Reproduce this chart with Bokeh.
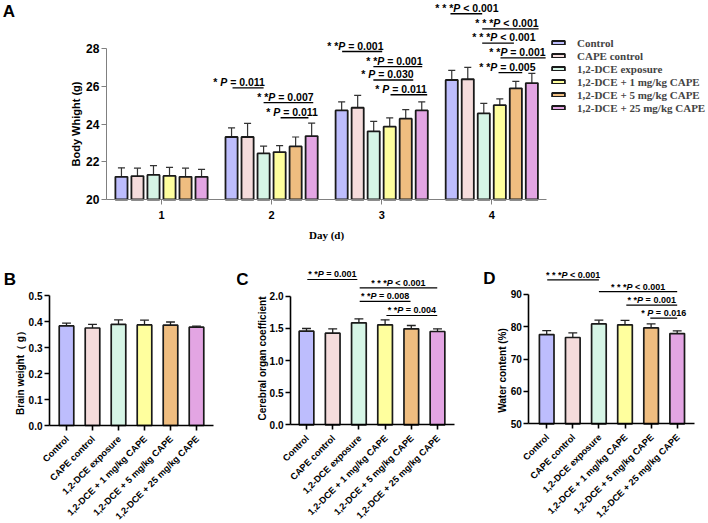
import math
from bokeh.plotting import figure
from bokeh.models import Range1d, FixedTicker, Label, Legend, LegendItem, NumeralTickFormatter
from bokeh.layouts import column, row
from bokeh.embed import file_html
from bokeh.resources import INLINE
from bokeh.core.properties import value

SANS = "Liberation Sans"
SERIF = "Liberation Serif"
INK = "#1a1a1a"

groups = ["Control", "CAPE control", "1,2-DCE exposure",
          "1,2-DCE + 1 mg/kg CAPE", "1,2-DCE + 5 mg/kg CAPE", "1,2-DCE + 25 mg/kg CAPE"]
colors = ["#bdbdfd", "#f5dcdc", "#d6f5e6", "#ffff9e", "#efbd80", "#e3a5e3"]

days = [1, 2, 3, 4]

# Body weight (g): mean per day for each group
bw_control = [21.20, 23.31, 24.72, 26.33]
bw_cape = [21.24, 23.31, 24.86, 26.37]
bw_dce = [21.30, 22.44, 23.61, 24.56]
bw_dce_1 = [21.25, 22.51, 23.86, 25.00]
bw_dce_5 = [21.20, 22.81, 24.28, 25.89]
bw_dce_25 = [21.20, 23.36, 24.72, 26.17]

# Body weight (g): SD per day for each group
sd_control = [0.48, 0.48, 0.45, 0.51]
sd_cape = [0.42, 0.72, 0.66, 0.63]
sd_dce = [0.49, 0.39, 0.53, 0.53]
sd_dce_1 = [0.45, 0.34, 0.46, 0.33]
sd_dce_5 = [0.46, 0.50, 0.48, 0.37]
sd_dce_25 = [0.40, 0.69, 0.45, 0.51]

bw_means = [bw_control, bw_cape, bw_dce, bw_dce_1, bw_dce_5, bw_dce_25]
bw_sds = [sd_control, sd_cape, sd_dce, sd_dce_1, sd_dce_5, sd_dce_25]

# Brain weight (g)
brain_weight = [0.383, 0.375, 0.389, 0.387, 0.386, 0.378]
brain_weight_sd = [0.011, 0.014, 0.017, 0.018, 0.012, 0.004]

# Cerebral organ coefficient
organ_coef = [1.456, 1.425, 1.586, 1.555, 1.493, 1.451]
organ_coef_sd = [0.042, 0.068, 0.062, 0.078, 0.051, 0.042]

# Water content (%)
water = [77.6, 76.7, 80.9, 80.6, 79.7, 77.9]
water_sd = [1.25, 1.40, 1.15, 1.40, 1.20, 0.85]

# Comparisons over the body weight bars:
# (day, line start bar, line end bar, height, label, label end bar)
bw_sig = [
    (2, 0.06, 2.00, 25.91, "* P = 0.011", 2.12),
    (2, 2.00, 5.10, 25.13, "* *P = 0.007", 5.12),
    (2, 3.06, 4.80, 24.33, "* P = 0.011", 5.43),
    (3, 0.03, 2.53, 27.84, "* *P = 0.001", 2.61),
    (3, 1.98, 5.03, 27.04, "* *P = 0.001", 5.05),
    (3, 1.98, 4.47, 26.33, "* P = 0.030", 4.49),
    (3, 3.05, 5.34, 25.55, "* P = 0.011", 5.36),
    (4, -0.08, 1.90, 29.84, "* * *P < 0.001", 2.92),
    (4, 1.90, 5.42, 29.04, "* * *P < 0.001", 5.42),
    (4, 1.90, 3.88, 28.28, "* * *P < 0.001", 5.23),
    (4, 3.04, 5.86, 27.50, "* *P = 0.001", 5.86),
    (4, 2.92, 4.40, 26.72, "* *P = 0.005", 5.23),
]

# Comparisons over the organ bars: (line start bar, line end bar, height, label)
coef_sig = [
    (0.03, 1.94, 2.26, "* *P = 0.001"),
    (2.03, 4.99, 2.13, "* * *P < 0.001"),
    (2.03, 3.97, 1.92, "* *P = 0.008"),
    (3.05, 4.99, 1.70, "* *P = 0.004"),
]
water_sig = [
    (0.02, 2.00, 94.5, "* * *P < 0.001"),
    (2.00, 5.00, 90.9, "* * *P < 0.001"),
    (3.05, 5.00, 86.7, "* *P = 0.001"),
    (3.97, 5.00, 82.7, "* P = 0.016"),
]

# Advance widths (em) of the bold sans face, used to set the italic "P" inline
ADV = {" ": 0.278, "*": 0.389, "P": 0.667, "=": 0.584, "<": 0.584, ".": 0.278}


def text_width(s, size):
    return sum(ADV.get(c, 0.556) for c in s) * size


def p_label_pieces(label, size):
    """Split a p-value label into runs; the P itself is italic. Offsets in px from the left edge."""
    k = label.index("P")
    runs = [(label[:k], False, 0), ("P", True, k), (label[k + 1:], False, k + 1)]
    out = []
    for seg, italic, start in runs:
        lead = len(seg) - len(seg.lstrip(" "))
        s = seg.strip(" ")
        if s:
            out.append((s, italic, text_width(label[:start + lead], size)))
    return out, text_width(label, size)


def draw_p_labels(p, xs, ys, labels, size, anchor):
    """anchor 'right': xs are right ends; 'center': xs are centres."""
    cols = {False: dict(x=[], y=[], t=[], o=[]), True: dict(x=[], y=[], t=[], o=[])}
    for x, y, lab in zip(xs, ys, labels):
        runs, total = p_label_pieces(lab, size)
        shift = -total if anchor == "right" else -total / 2
        for s, italic, off in runs:
            c = cols[italic]
            c["x"].append(x)
            c["y"].append(y)
            c["t"].append(s)
            c["o"].append(off + shift)
    for italic, c in cols.items():
        p.text(x=c["x"], y=c["y"], text=c["t"], x_offset=c["o"], text_font=value(SANS),
               text_font_style="bold italic" if italic else "bold",
               text_font_size=f"{size}px", text_align="left", text_baseline="bottom",
               text_color="black")


class Frame:
    """Maps figure pixels to data; the plot frame fills the whole figure."""

    def __init__(self, width, height, x_px, x_val, x_scale, y_px, y_val, y_scale):
        self.width, self.height = width, height
        self.x_px, self.x_val, self.x_scale = x_px, x_val, x_scale
        self.y_px, self.y_val, self.y_scale = y_px, y_val, y_scale

    def x(self, px):
        return self.x_val + (px - self.x_px) / self.x_scale

    def y(self, py):
        return self.y_val + (self.y_px - py) / self.y_scale

    def figure(self):
        p = figure(width=self.width, height=self.height,
                   x_range=Range1d(self.x(0), self.x(self.width)),
                   y_range=Range1d(self.y(self.height), self.y(0)),
                   output_backend="svg", toolbar_location=None,
                   min_border=0, min_border_left=0, min_border_right=0,
                   min_border_top=0, min_border_bottom=0)
        p.outline_line_color = None
        p.grid.visible = False
        p.background_fill_color = None
        p.border_fill_color = None
        return p


def style_axis(ax, color, width, size):
    ax.axis_line_color = color
    ax.axis_line_width = width
    ax.major_tick_line_color = color
    ax.major_tick_line_width = width
    ax.major_tick_out = 5
    ax.major_tick_in = 0
    ax.minor_tick_line_color = None
    ax.major_label_text_font = SANS
    ax.major_label_text_font_style = "bold"
    ax.major_label_text_font_size = size
    ax.major_label_text_color = "black"
    ax.major_label_standoff = 2


def add_label(p, fr, sx, sy, text, size, font=SANS, angle=0.0, align="center", baseline="middle"):
    p.add_layout(Label(x=fr.x(sx), y=fr.y(sy), text=text, angle=angle, text_align=align,
                       text_baseline=baseline, text_font=font, text_font_style="bold",
                       text_font_size=size, text_color="black"))


# ---------------- Panel A: body weight over days ----------------
fa = Frame(708, 262, 161, 1.0, 110.1, 199, 20.0, 18.875)
PITCH = 0.1455
BAR_W = 0.11
CAP = 0.032

pA = fa.figure()

bar_renderers = []
for i, (name, color) in enumerate(zip(groups, colors)):
    xs = [d + (i - 2.5) * PITCH for d in days]
    means = bw_means[i]
    tops = [m + s for m, s in zip(means, bw_sds[i])]
    pA.segment(x0=xs, y0=means, x1=xs, y1=tops, line_color="#333333", line_width=1.2)
    pA.segment(x0=[x - CAP for x in xs], y0=tops, x1=[x + CAP for x in xs], y1=tops,
               line_color="#333333", line_width=1.2)
    r = pA.vbar(x=xs, top=means, bottom=20, width=BAR_W, fill_color=color,
                line_color=INK, line_width=1.8)
    bar_renderers.append(r)

sx0 = [day + (a - 2.5) * PITCH for day, a, b, lvl, lab, te in bw_sig]
sx1 = [day + (b - 2.5) * PITCH for day, a, b, lvl, lab, te in bw_sig]
sy = [lvl for day, a, b, lvl, lab, te in bw_sig]
sxe = [day + (te - 2.5) * PITCH for day, a, b, lvl, lab, te in bw_sig]
pA.segment(x0=sx0, y0=sy, x1=sx1, y1=sy, line_color="black", line_width=1.3)
draw_p_labels(pA, sxe, sy, [s[4] for s in bw_sig], 10.5, "right")

style_axis(pA.xaxis[0], "#808080", 1, "11px")
style_axis(pA.yaxis[0], "#808080", 1, "12px")
pA.xaxis.ticker = FixedTicker(ticks=days)
pA.xaxis.bounds = (0.5, 4.5)
pA.xaxis.fixed_location = 20
pA.xaxis.major_label_standoff = 6
pA.yaxis.ticker = FixedTicker(ticks=[20, 22, 24, 26, 28])
pA.yaxis.bounds = (20, 28)
pA.yaxis.fixed_location = 0.5

legend = Legend(items=[LegendItem(label=g, renderers=[r]) for g, r in zip(groups, bar_renderers)],
                location=(550, 262 - 114), orientation="vertical",
                label_text_font=SERIF, label_text_font_style="bold", label_text_font_size="11px",
                glyph_width=16, glyph_height=5, label_standoff=11, label_height=13,
                spacing=0, padding=0, margin=0, border_line_color=None,
                background_fill_alpha=0)
pA.add_layout(legend)

add_label(pA, fa, 8.5, 11, "A", "17px", align="center")
add_label(pA, fa, 75, 123.5, "Body Whight (g)", "11px", angle=math.pi / 2)
add_label(pA, fa, 326, 234, "Day (d)", "11px", font=SERIF)


# ---------------- Panels B-D: organ measurements ----------------
def organ_panel(fr, means, sds, sig, ticks, fmt, y_axis_x, x_end, base,
                letter, letter_xy, title, title_xy):
    p = fr.figure()
    xs = list(range(len(groups)))
    tops = [m + s for m, s in zip(means, sds)]
    cap = 0.17
    p.segment(x0=xs, y0=means, x1=xs, y1=tops, line_color="#222222", line_width=1.3)
    p.segment(x0=[x - cap for x in xs], y0=tops, x1=[x + cap for x in xs], y1=tops,
              line_color="#222222", line_width=1.3)
    p.vbar(x=xs, top=means, bottom=base, width=0.56, fill_color=colors,
           line_color=INK, line_width=1.7)
    if sig:
        p.segment(x0=[s[0] for s in sig], y0=[s[2] for s in sig],
                  x1=[s[1] for s in sig], y1=[s[2] for s in sig],
                  line_color="black", line_width=1.2)
        draw_p_labels(p, [(s[0] + s[1]) / 2 for s in sig], [s[2] for s in sig],
                      [s[3] for s in sig], 9, "center")
    style_axis(p.xaxis[0], "black", 1.6, "10px")
    style_axis(p.yaxis[0], "black", 1.6, "10px")
    p.xaxis.ticker = FixedTicker(ticks=xs)
    p.xaxis.major_label_overrides = {i: "" for i in xs}
    p.xaxis.bounds = (y_axis_x, x_end)
    p.xaxis.fixed_location = base
    p.yaxis.ticker = FixedTicker(ticks=ticks)
    p.yaxis.formatter = NumeralTickFormatter(format=fmt)
    p.yaxis.bounds = (ticks[0], ticks[-1])
    p.yaxis.fixed_location = y_axis_x

    base_px = fr.y_px
    for i, name in enumerate(groups):
        sx = fr.x_px + i * fr.x_scale + 1
        add_label(p, fr, sx, base_px + 12, name, "9.2px", angle=math.pi / 4,
                  align="right", baseline="middle")
    add_label(p, fr, letter_xy[0], letter_xy[1], letter, "17px")
    add_label(p, fr, title_xy[0], title_xy[1], title, "10px", angle=math.pi / 2)
    return p


fb = Frame(236, 261, 66, 0.0, 26.0, 163, 0.0, 260.0)
fc = Frame(236, 261, 70, 0.0, 26.2, 162.3, 0.0, 64.3)
fd = Frame(236, 261, 74.2, 0.0, 26.1, 161.3, 50.0, 3.233)

pB = organ_panel(fb, brain_weight, brain_weight_sd, None,
                 [0.0, 0.1, 0.2, 0.3, 0.4, 0.5], "0.0", -0.654, 5.654, 0.0,
                 "B", (9.5, 17), "Brain weight（ g）", (20, 108))
pC = organ_panel(fc, organ_coef, organ_coef_sd, coef_sig,
                 [0.0, 0.5, 1.0, 1.5, 2.0], "0.0", -0.611, 5.649, 0.0,
                 "C", (6, 17), "Cerebral organ coefficient", (26, 96))
pD = organ_panel(fd, water, water_sd, water_sig,
                 [50, 60, 70, 80, 90], "0", -0.686, 5.651, 50.0,
                 "D", (17, 16), "Water content (%)", (29.7, 108))

layout = column(pA, row(pB, pC, pD))
open("out.html", "w").write(file_html(layout, INLINE))
